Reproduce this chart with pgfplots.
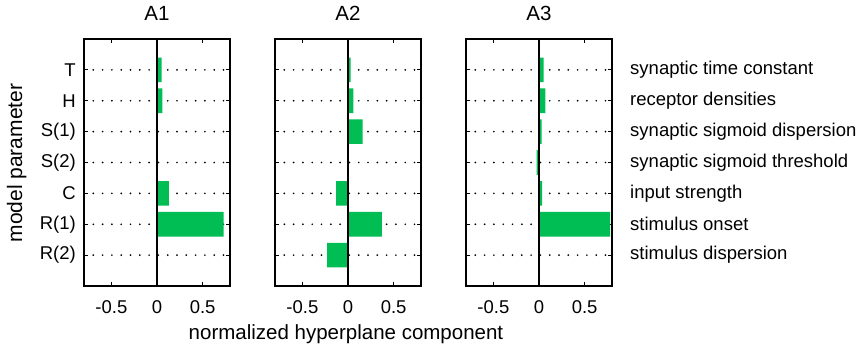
\documentclass[border=0pt]{standalone}
\usepackage{fontspec}
\setmainfont{Liberation Sans}
\usepackage{pgfplots}
\pgfplotsset{compat=1.18}
\definecolor{barg}{RGB}{0,189,84}
\pgfplotsset{
 panel/.style={
   width=146bp, height=247bp, scale only axis,
   xmin=-0.8, xmax=0.8, ymin=0, ymax=8, y dir=reverse,
   xtick={-0.5,0,0.5}, xticklabels={-0.5,0,0.5},
   ytick={1,...,7},
   tick align=inside, major tick length=4bp,
   axis line style={line width=1.6bp},
   every tick/.style={black, line width=1bp},
   ymajorgrids,
   major grid style={black, line width=1.9bp, line cap=round, dash pattern=on 0bp off 9.3bp},
   font=\fontsize{18.5bp}{22bp}\selectfont,
   xticklabel style={anchor=base, yshift=-27bp, inner sep=0pt},
   title style={anchor=base, at={(0.5,1)}, yshift=13bp, inner sep=0pt, font=\fontsize{20.5bp}{24bp}\selectfont},
 },
 bars/.style={xbar, bar width=0.8, bar shift=0pt, fill=barg, draw=none},
 zl/.style={black, line width=1.1bp, mark=none},
}
\begin{document}
\begin{tikzpicture}
\useasboundingbox (0,0) rectangle (861bp,346bp);
\begin{axis}[panel, at={(84bp,60bp)}, title={A1},
  yticklabels={T,H,S(1),S(2),C,R(1),R(2)},
  yticklabel style={anchor=east, inner sep=0pt, xshift=-8bp}]
\addplot[bars] coordinates {(0.05,1) (0.06,2) (0.005,3) (0,4) (0.13,5) (0.73,6) (0,7)};
\addplot[zl] coordinates {(0,0) (0,8)};
\end{axis}
\begin{axis}[panel, at={(275bp,60bp)}, title={A2}, yticklabels={}]
\addplot[bars] coordinates {(0.03,1) (0.06,2) (0.16,3) (0.01,4) (-0.13,5) (0.37,6) (-0.23,7)};
\addplot[zl] coordinates {(0,0) (0,8)};
\end{axis}
\begin{axis}[panel, at={(466bp,60bp)}, title={A3},
  yticklabel pos=right,
  yticklabels={synaptic time constant,receptor densities,synaptic sigmoid dispersion,synaptic sigmoid threshold,input strength,stimulus onset,stimulus dispersion},
  yticklabel style={anchor=west, inner sep=0pt, xshift=18bp}]
\addplot[bars] coordinates {(0.05,1) (0.07,2) (0.03,3) (-0.025,4) (0.035,5) (0.78,6) (0,7)};
\addplot[zl] coordinates {(0,0) (0,8)};
\end{axis}
\node[anchor=base, inner sep=0pt, font=\fontsize{20.5bp}{24bp}\selectfont] at (346bp,7bp) {normalized hyperplane component};
\node[anchor=base, inner sep=0pt, rotate=90, font=\fontsize{21bp}{24bp}\selectfont] at (22bp,183bp) {model parameter};
\end{tikzpicture}
\end{document}
